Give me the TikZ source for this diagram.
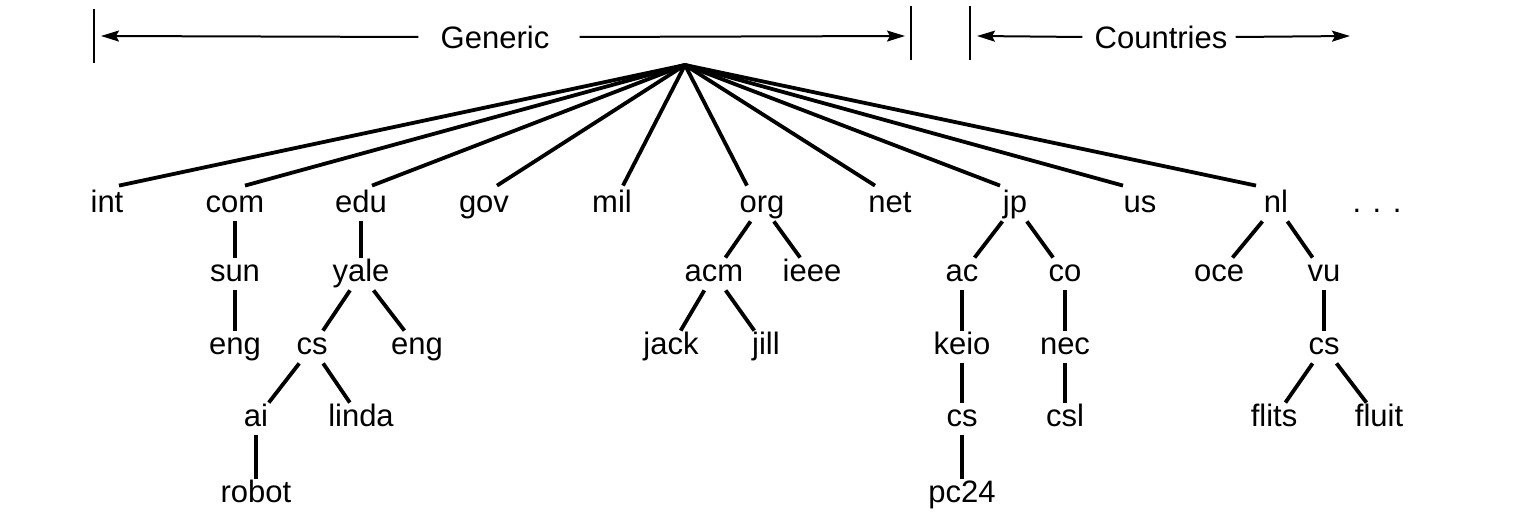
\documentclass[tikz,border=0pt]{standalone}
\usepackage{fontspec}
\setmainfont{Liberation Sans}
\usetikzlibrary{arrows.meta}

\tikzset{
  dom/.style={anchor=base, inner xsep=1pt, inner ysep=1pt, text height=11pt, text depth=3pt, font=\fontsize{15.5}{18}\selectfont},
  hdr/.style={inner sep=0pt, font=\fontsize{15.5}{18}\selectfont},
  branch/.style={line width=1.9pt},
  span/.style={line width=1pt, -{Stealth[length=9pt,width=5.5pt,inset=1.5pt]}},
  bar/.style={line width=1pt}
}

\begin{document}
\begin{tikzpicture}[x=0.5pt,y=-0.5pt]
\useasboundingbox (0,0) rectangle (1523,518);
% header
\node[hdr] (generic) at (495,37) {Generic};
\node[hdr] (countries) at (1161,37) {Countries};
\coordinate (gleft) at (101,36);
\coordinate (gright) at (905,36);
\coordinate (cleft) at (977,36);
\coordinate (cright) at (1350,36);
\draw[bar] (94,9)--(94,63);
\draw[bar] (911,6)--(911,60);
\draw[bar] (970,6)--(970,60);
\draw[span] ([xshift=-11pt]generic.west) -- (gleft);
\draw[span] ([xshift=15pt]generic.east) -- (gright);
\draw[span] ([xshift=-6pt]countries.west) -- (cleft);
\draw[span] ([xshift=4pt]countries.east) -- (cright);
% tree
\coordinate (root) at (685,65);
\foreach \n/\x in {int/107,com/235,edu/361,gov/484,mil/612,org/762,net/890,jp/1015,us/1140,nl/1276}
  \node[dom] (\n) at (\x,213) {\n};
\node[dom] (more) at (1377,213) {. . .};
\foreach \n/\x/\t in {sun/235/sun,yale/361/yale,acm/714/acm,ieee/812/ieee,ac/962/ac,co/1065/co,oce/1219/oce,vu/1324/vu}
  \node[dom] (\n) at (\x,282) {\t};
\foreach \n/\x/\t in {suneng/235/eng,yalecs/312/cs,yaleeng/417/eng,jack/671/jack,jill/766/jill,keio/962/keio,nec/1065/nec,vucs/1324/cs}
  \node[dom] (\n) at (\x,355) {\t};
\foreach \n/\x/\t in {ai/256/ai,linda/361/linda,keiocs/962/cs,csl/1065/csl,flits/1274/flits,fluit/1379/fluit}
  \node[dom] (\n) at (\x,427) {\t};
\node[dom] (robot) at (256,503) {robot};
\node[dom] (pc24) at (962,503) {pc24};
\foreach \n/\s in {int/6,com/5,edu/5.5,gov/6.5,mil/5.5,org/-7.5,net/-7.5,jp/-7.5,us/-8.5,nl/-10}
  \draw[branch] (root) -- ([xshift=\s pt, yshift=1.5pt]\n.north);
\foreach \a/\b in {com/sun,sun/suneng,edu/yale,yale/yalecs,yale/yaleeng,yalecs/ai,yalecs/linda,ai/robot,
  org/acm,org/ieee,acm/jack,acm/jill,jp/ac,jp/co,ac/keio,keio/keiocs,keiocs/pc24,co/nec,nec/csl,
  nl/oce,nl/vu,vu/vucs,vucs/flits,vucs/fluit}
  \draw[branch] (\a) -- (\b);
\end{tikzpicture}
\end{document}
